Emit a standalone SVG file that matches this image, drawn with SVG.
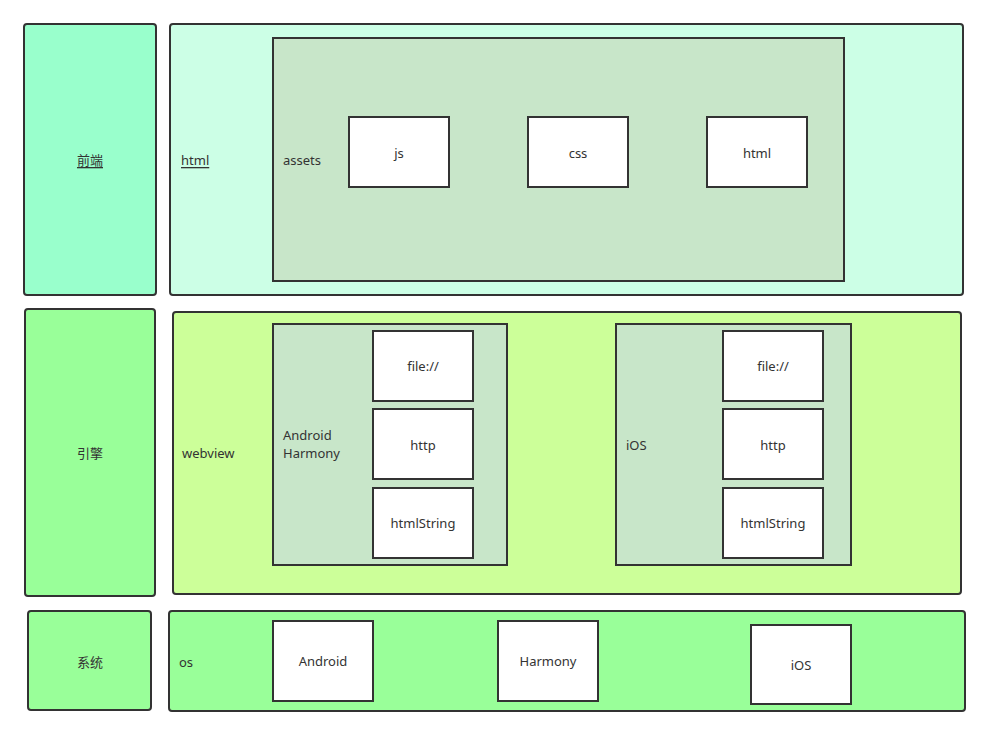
<svg xmlns="http://www.w3.org/2000/svg" width="995" height="747" viewBox="0 0 995 747">
<style>
  .b{stroke:#333;stroke-width:2}
  .w{fill:#fff;stroke:#333;stroke-width:2}
  .g{fill:#c8e6c9;stroke:#333;stroke-width:2}
  text{font-family:"Noto Sans","Noto Sans CJK SC",sans-serif;font-size:13px;fill:#333;dominant-baseline:central}
  .c{text-anchor:middle}
  .u{text-decoration:underline}
</style>
<rect width="995" height="747" fill="#fff"/>
<g id="frontend"><rect class="b" x="24" y="24" width="132" height="271" rx="3" fill="#99ffcc"/><text class="c u" x="90" y="160">前端</text></g>
<g id="engine"><rect class="b" x="25" y="309" width="130" height="287" rx="3" fill="#99ff99"/><text class="c" x="90" y="453">引擎</text></g>
<g id="system"><rect class="b" x="28" y="611" width="123" height="99" rx="3" fill="#99ff99"/><text class="c" x="90" y="662">系统</text></g>

<g id="html-layer"><rect class="b" x="170" y="24" width="793" height="271" rx="3" fill="#ccffe6"/><text class="u" x="181" y="160">html</text></g>
<g id="assets"><rect class="g" x="273" y="38" width="571" height="243"/><text x="283" y="160">assets</text></g>
<g id="js"><rect class="w" x="349" y="117" width="100" height="70"/><text class="c" x="399" y="153">js</text></g>
<g id="css"><rect class="w" x="528" y="117" width="100" height="70"/><text class="c" x="578" y="153">css</text></g>
<g id="html-file"><rect class="w" x="707" y="117" width="100" height="70"/><text class="c" x="757" y="153">html</text></g>

<g id="webview"><rect class="b" x="173" y="312" width="788" height="282" rx="3" fill="#ccff99"/><text x="182" y="453">webview</text></g>
<g id="android-harmony"><rect class="g" x="273" y="324" width="234" height="241"/><text x="283" y="435">Android</text><text x="283" y="453">Harmony</text></g>
<g id="ah-file"><rect class="w" x="373" y="331" width="100" height="70"/><text class="c" x="423" y="366">file://</text></g>
<g id="ah-http"><rect class="w" x="373" y="409" width="100" height="70"/><text class="c" x="423" y="445">http</text></g>
<g id="ah-htmlstring"><rect class="w" x="373" y="488" width="100" height="70"/><text class="c" x="423" y="523">htmlString</text></g>
<g id="ios-webview"><rect class="g" x="616" y="324" width="235" height="241"/><text x="626" y="445">iOS</text></g>
<g id="ios-file"><rect class="w" x="723" y="331" width="100" height="70"/><text class="c" x="773" y="366">file://</text></g>
<g id="ios-http"><rect class="w" x="723" y="409" width="100" height="70"/><text class="c" x="773" y="445">http</text></g>
<g id="ios-htmlstring"><rect class="w" x="723" y="488" width="100" height="70"/><text class="c" x="773" y="523">htmlString</text></g>

<g id="os"><rect class="b" x="169" y="611" width="796" height="100" rx="3" fill="#99ff99"/><text x="179" y="662">os</text></g>
<g id="os-android"><rect class="w" x="273" y="621" width="100" height="80"/><text class="c" x="323" y="661">Android</text></g>
<g id="os-harmony"><rect class="w" x="498" y="621" width="100" height="80"/><text class="c" x="548" y="661">Harmony</text></g>
<g id="os-ios"><rect class="w" x="751" y="625" width="100" height="79"/><text class="c" x="801" y="665">iOS</text></g>
<g id="connectors"/>
</svg>
